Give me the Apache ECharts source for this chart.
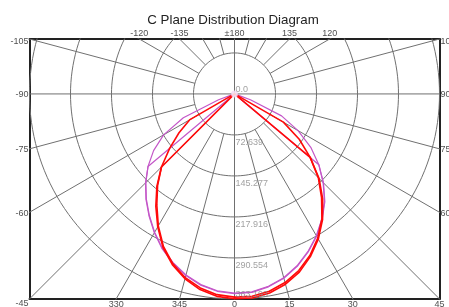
<!DOCTYPE html>
<html><head><meta charset="utf-8">
<script src="https://cdn.jsdelivr.net/npm/echarts@6/dist/echarts.min.js"></script>
<style>html,body{margin:0;padding:0;background:#fff}#c{width:449px;height:307px}</style>
</head><body><div id="c"></div>
<script>
// ---- data ----
const maxIntensity = 363.193;
const ringValues = [72.639, 145.277, 217.916, 290.554, 363.193];
const ringLabels = ['0.0', '72.639', '145.277', '217.916', '290.554', '363.193'];
const rayAngles = [0, 15, 30, 45, 60, 75, 90, 105, 120, 135, 150, 165, 180, 195, 210, 225, 240, 255, 270, 285, 300, 315, 330, 345];
const bottomAngles = [-30, -15, 0, 15, 30, 45];
const bottomLabels = ['330', '345', '0', '15', '30', '45'];
const topAngles = [-120, -135, 180, 135, 120];
const topLabels = ['-120', '-135', '±180', '135', '120'];
const leftAngles = [-105, -90, -75, -60, -45];
const leftLabels = ['-105', '-90', '-75', '-60', '-45'];
const rightAngles = [105, 90, 75, 60];
const rightLabels = ['105', '90', '75', '60'];

const gammaAngles = [-90, -85, -80, -75, -70, -65, -60, -55, -50, -45, -40, -35, -30, -25, -20, -15, -10, -5, 0,
  5, 10, 15, 20, 25, 30, 35, 40, 45, 50, 55, 60, 65, 70, 75, 80, 85, 90];
const magentaWide = [0, 0, 0, 0, 30, 100, 145, 175, 200, 222, 243, 263, 283, 302, 318, 332, 343, 350, 353,
  352, 346, 337, 324, 308, 290, 270, 248, 222, 195, 165, 130, 92, 30, 0, 0, 0, 0];
const magentaNarrow = [0, 0, 0, 0, 0, 0, 0, 0, 200, 223, 244, 264, 284, 303, 319, 333, 344, 351, 354,
  353, 347, 338, 325, 309, 291, 271, 249, 223, 195, 0, 0, 0, 0, 0, 0, 0, 0];
const redWide = [0, 0, 0, 0, 0, 0, 92, 120, 150, 183, 212, 240, 270, 298, 320, 337, 349, 357, 360,
  360, 355, 346, 333, 316, 295, 270, 240, 210, 175, 140, 100, 0, 0, 0, 0, 0, 0];
const redNarrow = [0, 0, 0, 0, 0, 0, 0, 0, 0, 183, 214, 243, 272, 300, 322, 339, 352, 360, 363,
  363, 358, 349, 336, 318, 297, 272, 243, 212, 175, 0, 0, 0, 0, 0, 0, 0, 0];

// ---- build ----
const rad = d => d * Math.PI / 180;
const R = maxIntensity;
const H = R * Math.tan(rad(15));
const clampY = v => Math.max(-H, Math.min(R, v));
const clampX = v => Math.max(-R, Math.min(R, v));
const toXY = (g, I) => [I * Math.sin(rad(g)), I * Math.cos(rad(g))];

const gridColor = '#707070';
const series = [];
ringValues.forEach(r => {
  const pts = [];
  for (let a = 0; a <= 360; a += 2) pts.push(toXY(a, r));
  series.push({ type: 'line', data: pts, showSymbol: false, silent: true, clip: true,
    lineStyle: { color: gridColor, width: 1 }, z: 1 });
});
rayAngles.forEach(a => {
  const start = (a % 90 === 0) ? 0 : ringValues[0];
  series.push({ type: 'line', data: [toXY(a, start), toXY(a, 3 * R)], showSymbol: false, silent: true, clip: true,
    lineStyle: { color: gridColor, width: 1 }, z: 1 });
});
const curve = (vals, color, w) => ({
  type: 'line', data: gammaAngles.map((g, i) => toXY(g, vals[i])), showSymbol: false, clip: true,
  lineStyle: { color, width: w }, z: 3
});
series.push(curve(magentaWide, '#c457c8', 1.2));
series.push(curve(magentaNarrow, '#c457c8', 1.2));
series.push(curve(redWide, '#ff0a0a', 1.6));
series.push(curve(redNarrow, '#ff0a0a', 1.6));
series.push({ type: 'scatter', data: [[0, 0]], symbol: 'emptyCircle', symbolSize: 5,
  itemStyle: { color: '#f4d8f4', borderColor: '#c040c0', borderWidth: 1.5 }, z: 5 });
// ring labels
const txt = { fontSize: 9, fontFamily: 'Liberation Sans' };
series.push({
  type: 'scatter', symbolSize: 0, z: 6, clip: false, silent: true,
  data: ringLabels.map((t, i) => ({
    value: [0, i === 0 ? 0 : ringValues[i - 1]],
    label: Object.assign({ show: true, formatter: t, position: [1, (i === 0 || i === ringLabels.length - 1) ? -4 : 8],
      align: 'left', verticalAlign: 'middle', color: '#8a8a8a' }, txt)
  }))
});
// edge angle labels
const edge = (pts, labels, pos, offsetFn) => ({
  type: 'scatter', symbolSize: 0, z: 6, clip: false, silent: true,
  data: pts.map((p, i) => ({ value: p,
    label: Object.assign({ show: true, formatter: labels[i], position: pos, distance: 2, color: '#222',
      offset: offsetFn ? offsetFn(i) : [0, 0] }, txt) }))
});
series.push(edge(bottomAngles.map(a => [clampX(R * Math.tan(rad(a))), R]), bottomLabels, 'bottom', () => [0, -1]));
series.push(edge(topAngles.map(a => [clampX(-H * Math.tan(rad(a))), -H]), topLabels, 'top', () => [0, 1]));
series.push(edge(leftAngles.map(a => [-R, clampY(-R * Math.cos(rad(a)) / Math.sin(rad(a)))]), leftLabels, 'left',
  i => [1, i === 0 ? 3 : (i === leftAngles.length - 1 ? 5 : 1)]));
series.push(edge(rightAngles.map(a => [R, clampY(R * Math.cos(rad(a)) / Math.sin(rad(a)))]), rightLabels, 'right',
  i => [-1, i === 0 ? 3 : 1]));

const axisLine = { show: true, onZero: false, lineStyle: { color: '#222', width: 2 } };
const hidden = { axisTick: { show: false }, splitLine: { show: false }, axisLabel: { show: false } };
const option = {
  animation: false,
  title: { text: 'C Plane Distribution Diagram', left: 228, textAlign: 'center', top: 9,
    textStyle: { fontSize: 13.3, fontWeight: 'normal', color: '#222', fontFamily: 'Liberation Sans' } },
  grid: { left: 29.5, right: 9.5, top: 39, height: 410 / 2 * (1 + Math.tan(rad(15))) },
  xAxis: [
    Object.assign({ type: 'value', min: -R, max: R, position: 'bottom', axisLine }, hidden),
    Object.assign({ type: 'value', min: -R, max: R, position: 'top', axisLine }, hidden)
  ],
  yAxis: [
    Object.assign({ type: 'value', inverse: true, min: -H, max: R, position: 'left', axisLine }, hidden),
    Object.assign({ type: 'value', inverse: true, min: -H, max: R, position: 'right', axisLine }, hidden)
  ],
  series
};
const chart = echarts.init(document.getElementById('c'), null, { renderer: 'canvas' });
chart.setOption(option);
</script></body></html>
